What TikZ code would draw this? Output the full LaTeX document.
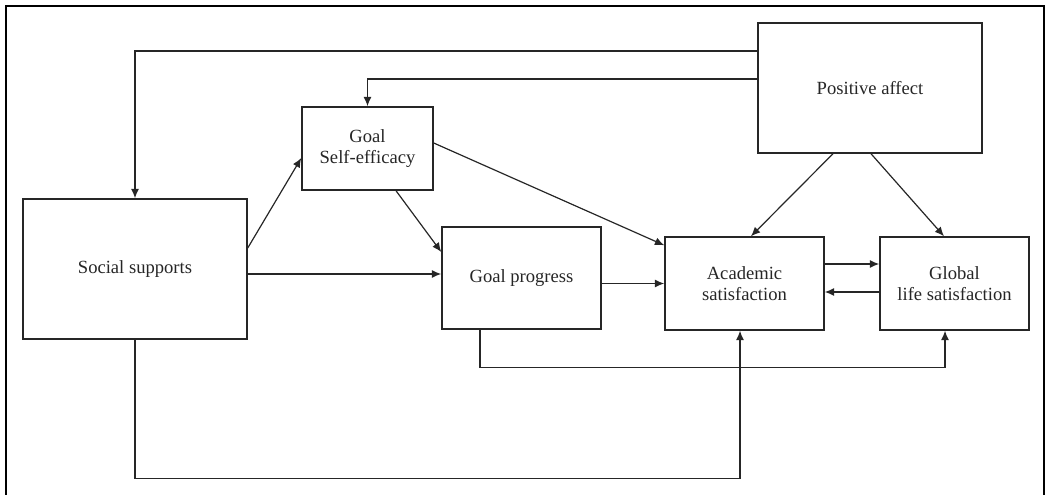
\documentclass[tikz,border=0pt]{standalone}
\usepackage{fontspec}
\setmainfont{Liberation Serif}
\usetikzlibrary{arrows.meta,calc}

\begin{document}
\begin{tikzpicture}[x=0.75pt,y=-0.75pt,>={Latex[length=7pt,width=6pt]},
    box/.style={draw=black!85,line width=1.1pt,align=center,inner sep=0pt,
      text=black!85,font=\fontsize{13.95}{16}\selectfont},
    link/.style={->,draw=black!85,line width=0.9pt}]
    \useasboundingbox (0,0) rectangle (1046,495);

    % Frame
    \draw[line width=1.8pt] (6,495)--(6,6)--(1044,6)--(1044,495);

    % Boxes
    \node[box,minimum width=168pt,minimum height=105pt] (social) at (135,269) {Social supports};
    \node[box,minimum width=98.25pt,minimum height=62.25pt] (efficacy) at (367.5,148.5) {Goal\\Self-efficacy};
    \node[box,minimum width=168pt,minimum height=97.5pt] (affect) at (870,88) {Positive affect};
    \node[box,minimum width=119.25pt,minimum height=76.5pt] (progress) at (521.5,278) {Goal progress};
    \node[box,minimum width=119.25pt,minimum height=69.75pt] (acad) at (744.5,283.5) {Academic\\satisfaction};
    \node[box,minimum width=111.75pt,minimum height=69.75pt] (life) at (954.5,283.5) {Global\\life satisfaction};

    % From positive affect
    \draw[link] ($(affect.west)+(0,-37)$) -| (social.north);
    \draw[link] ($(affect.west)+(0,-9)$) -| (efficacy.north);
    \draw[link] ($(affect.south)+(-37,0)$) -- ($(acad.north)+(6.5,0)$);
    \draw[link] ($(affect.south)+(1,0)$) -- ($(life.north)+(-10.5,0)$);

    % From social supports
    \draw[link] ($(social.east)+(0,-21)$) -- ($(efficacy.west)+(0,9.5)$);
    \coordinate (toprog) at ($(progress.west)+(0,-4)$);
    \draw[link] (social.east |- toprog) -- (toprog);
    \draw[link] (social.south) -- ++(0,139) -| ($(acad.south)+(-4.5,0)$);

    % From goal self-efficacy
    \draw[link] ($(efficacy.south)+(28.5,0)$) -- ($(progress.west)+(0,-26)$);
    \draw[link] ($(efficacy.east)+(0,-5.5)$) -- ($(acad.north west)+(0,9)$);

    % From goal progress
    \draw[link] (progress.east |- acad.west) -- (acad.west);
    \draw[link] ($(progress.south)+(-41.5,0)$) -- ++(0,38) -| ($(life.south)+(-9.5,0)$);

    % Between the two satisfactions
    \draw[link] ($(acad.east)+(0,-19.5)$) -- ($(life.west)+(0,-19.5)$);
    \draw[link] ($(life.west)+(0,8.5)$) -- ($(acad.east)+(0,8.5)$);
\end{tikzpicture}
\end{document}
